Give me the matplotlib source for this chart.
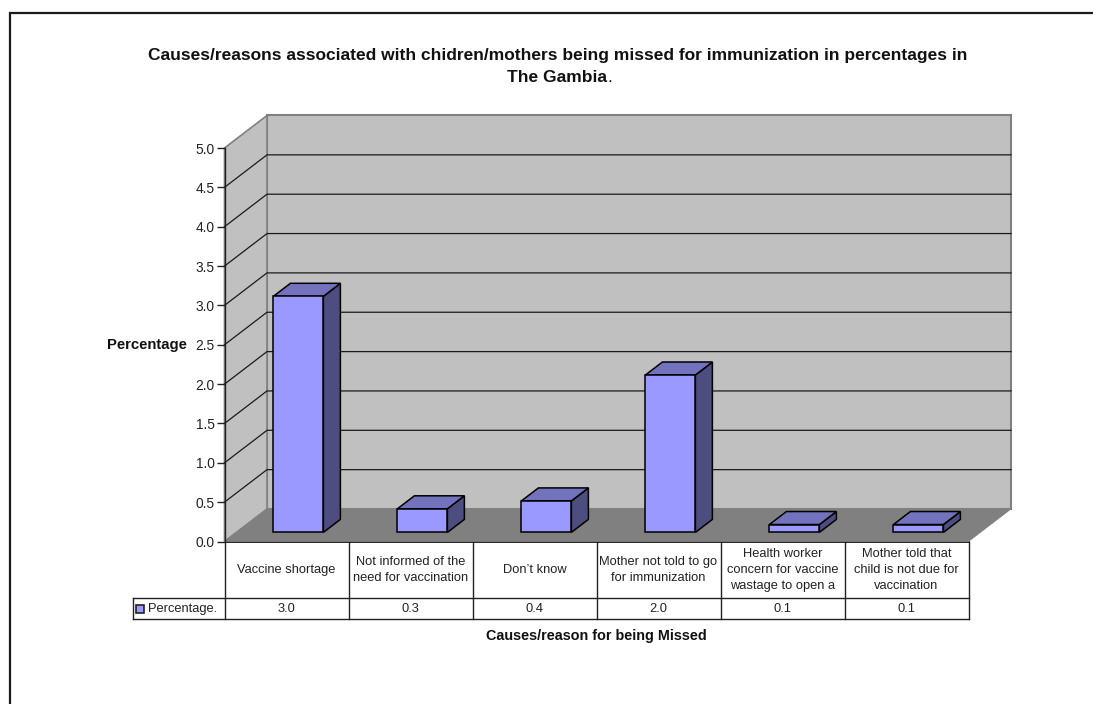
import matplotlib
matplotlib.use("Agg")
import matplotlib.pyplot as plt
from matplotlib.patches import Polygon, Rectangle

plt.rcParams['font.family'] = ['Liberation Sans', 'DejaVu Sans']

categories = ["Vaccine shortage",
              "Not informed of the\nneed for vaccination",
              "Don\u2019t know",
              "Mother not told to go\nfor immunization",
              "Health worker\nconcern for vaccine\nwastage to open a",
              "Mother told that\nchild is not due for\nvaccination"]
values = [3.0, 0.3, 0.4, 2.0, 0.1, 0.1]
y_ticks = [0.0, 0.5, 1.0, 1.5, 2.0, 2.5, 3.0, 3.5, 4.0, 4.5, 5.0]

W, H = 1093, 704
LEFT, RIGHT, TOP, BOTTOM = 224.5, 968.5, 148.0, 541.5

# depth of the box, in data units per unit of z
DEPTH_X = 42.5 / 124.0
DEPTH_Y = 32.5 / 78.7
BAR_WIDTH = 0.403
BAR_Z0, BAR_Z1 = 0.28, 0.68

WALL = '#C0C0C0'
FLOOR = '#808080'
EDGE = '#808080'
BAR_FRONT = '#9999FF'
BAR_TOP = '#7373BD'
BAR_SIDE = '#4D4D80'
TS = 9.3


def proj(x, y, z):
    return (x + z * DEPTH_X, y + z * DEPTH_Y)


fig = plt.figure(figsize=(W / 100, H / 100), dpi=100)

# overlay in pixel coordinates for the frame, title and table
px = fig.add_axes([0, 0, 1, 1])
px.set_xlim(0, W)
px.set_ylim(H, 0)
px.axis('off')

ax = fig.add_axes([LEFT / W, 1 - BOTTOM / H, (RIGHT - LEFT) / W, (BOTTOM - TOP) / H])
ax.patch.set_visible(False)
n = len(categories)
ax.set_xlim(0, n)
ax.set_ylim(0, 5)
ax.set_xticks([])
ax.set_yticks(y_ticks)
ax.set_yticklabels([f"{t:.1f}" for t in y_ticks])
ax.tick_params(axis='y', length=5.5, width=1, pad=1.5, labelsize=9.9, color='#222222', labelcolor='#222222')
for s in ['top', 'right', 'bottom']:
    ax.spines[s].set_visible(False)
ax.spines['left'].set_linewidth(1)
ax.spines['left'].set_color('#222222')


def face(points, color, edge=None, lw=0.0, zorder=1):
    ax.add_patch(Polygon(points, closed=True, facecolor=color, edgecolor=edge or color,
                         linewidth=lw, clip_on=False, zorder=zorder, joinstyle='miter'))


# back wall, side wall, floor
face([proj(0, 0, 1), proj(n, 0, 1), proj(n, 5, 1), proj(0, 5, 1)], WALL, EDGE, 1.5)
face([proj(0, 0, 0), proj(0, 0, 1), proj(0, 5, 1), proj(0, 5, 0)], WALL, EDGE, 1.2)
face([proj(0, 0, 0), proj(n, 0, 0), proj(n, 0, 1), proj(0, 0, 1)], FLOOR, FLOOR, 0.5, 2)

# gridlines across the side wall and the back wall
for t in y_ticks[1:-1]:
    xs = [proj(0, t, 0)[0], proj(0, t, 1)[0], proj(n, t, 1)[0]]
    ys = [proj(0, t, 0)[1], proj(0, t, 1)[1], proj(n, t, 1)[1]]
    ax.plot(xs, ys, color='#1A1A1A', lw=0.9, clip_on=False, zorder=1.5)

# bars
for i, v in enumerate(values):
    x0 = i + 0.5 - BAR_WIDTH / 2
    x1 = i + 0.5 + BAR_WIDTH / 2
    face([proj(x1, 0, BAR_Z0), proj(x1, 0, BAR_Z1), proj(x1, v, BAR_Z1), proj(x1, v, BAR_Z0)],
         BAR_SIDE, 'black', 1.1, 3)
    face([proj(x0, v, BAR_Z0), proj(x1, v, BAR_Z0), proj(x1, v, BAR_Z1), proj(x0, v, BAR_Z1)],
         BAR_TOP, 'black', 1.1, 3)
    face([proj(x0, 0, BAR_Z0), proj(x1, 0, BAR_Z0), proj(x1, v, BAR_Z0), proj(x0, v, BAR_Z0)],
         BAR_FRONT, 'black', 1.1, 4)

# outer frame is open on the right and bottom
px.plot([9.5, 9.5, W], [H, 12.5, 12.5], color='#1A1A1A', lw=1.6, solid_joinstyle='miter')

# title, the full stop is not bold
TITLE_X = 558
px.text(TITLE_X, 55.5, "Causes/reasons associated with chidren/mothers being missed for immunization in percentages in",
        ha='center', va='center', fontsize=12.5, fontweight='bold', color='#111111')
px.text(507, 77.5, "The Gambia", ha='left', va='center', fontsize=12.5, fontweight='bold', color='#111111')
px.text(607.5, 77.5, ".", ha='left', va='center', fontsize=12.5, color='#111111')

# axis titles
px.text(187, 345.5, "Percentage", ha='right', va='center', fontsize=10.7, fontweight='bold', color='#111111')
px.text(596.5, 636, "Causes/reason for being Missed", ha='center', va='center', fontsize=10.4,
        fontweight='bold', color='#111111')

# data table under the axis
ROW0, ROW1, ROW2 = BOTTOM, 597.5, 618.5
LEG_LEFT = 132.5
col_w = (RIGHT - LEFT) / n
TBL = '#222222'
px.plot([LEFT, RIGHT], [ROW0, ROW0], color='black', lw=1.2, zorder=5)
px.plot([LEG_LEFT, RIGHT], [ROW1, ROW1], color=TBL, lw=1)
px.plot([LEG_LEFT, RIGHT], [ROW2, ROW2], color=TBL, lw=1)
px.plot([LEG_LEFT, LEG_LEFT], [ROW1, ROW2], color=TBL, lw=1)
for i in range(n + 1):
    x = LEFT + i * col_w
    px.plot([x, x], [ROW0, ROW2], color=TBL, lw=1)
for i, (cat, v) in enumerate(zip(categories, values)):
    cx = LEFT + (i + 0.5) * col_w
    px.text(cx, 570, cat, ha='center', va='center', fontsize=TS, linespacing=1.48, color='#222222')
    px.text(cx, 608.5, f"{v:.1f}", ha='center', va='center', fontsize=TS, color='#222222')

px.add_patch(Rectangle((136, 605), 8, 8, facecolor=BAR_FRONT, edgecolor='#222222', linewidth=1.2))
px.text(148, 609, "Percentage.", ha='left', va='center', fontsize=TS, color='#222222')

fig.savefig("out.png", dpi=100, facecolor='white')
